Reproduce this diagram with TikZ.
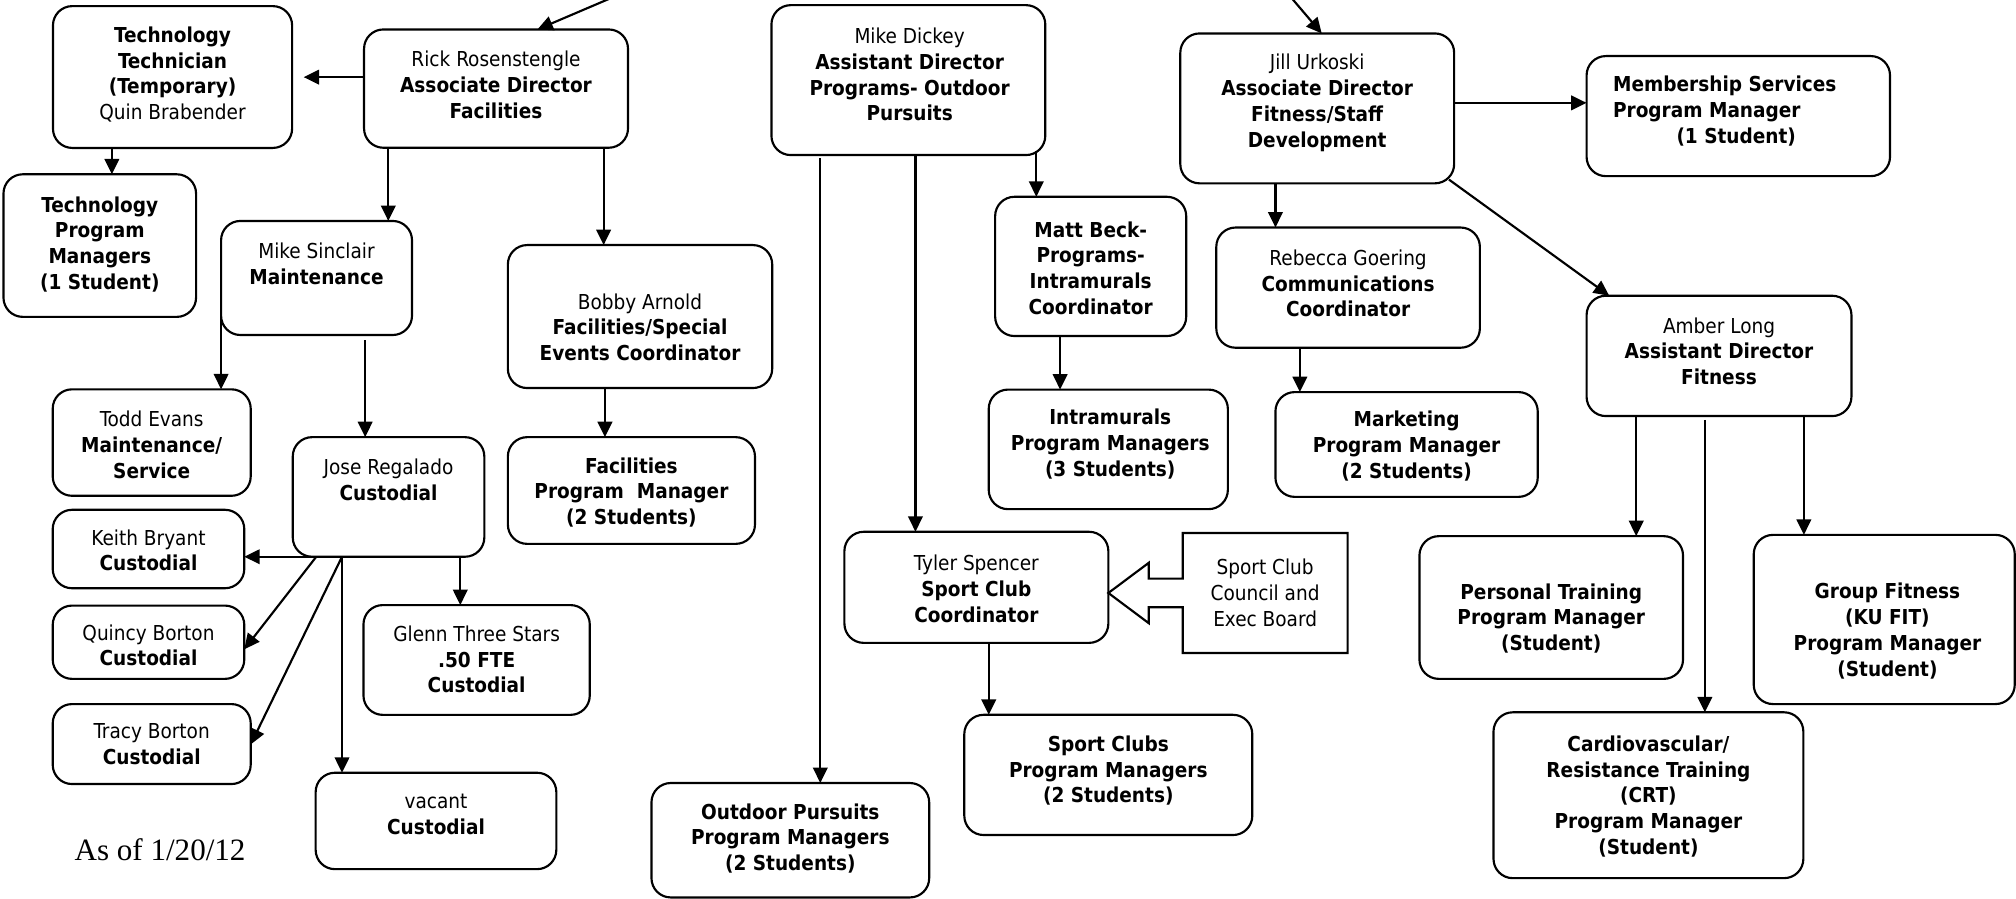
\documentclass[tikz,border=0pt]{standalone}
\usepackage{fontspec}
\setmainfont{DejaVu Sans Condensed}
\newfontfamily\asoffont{Liberation Serif}
\usetikzlibrary{arrows.meta}
\tikzset{
  box/.style={draw, line width=1pt, rounded corners=9pt, inner sep=0pt, outer sep=0pt},
  sz/.style 2 args={minimum width=#1*0.6pt, minimum height=#2*0.6pt},
  txt/.style={align=center, inner sep=0pt, outer sep=0pt, font=\fontsize{9.6}{12}\selectfont},
  txtb/.style={txt, font=\fontsize{9.6}{12}\selectfont\bfseries},
  arr/.style={line width=1pt, -{Triangle[length=7.2pt,width=6.8pt]}},
  callout/.style={line width=1pt, line join=miter},
}
\begin{document}
\begin{tikzpicture}[x=0.6pt, y=-0.6pt]
\useasboundingbox (0,0) rectangle (1568,699);

% ---------- Facilities branch ----------
\node[box, sz={186}{110.3}] (tt) at (134.2,59.9) {};
\node[txt] (tt-t) at (134.2,58) {\textbf{Technology}\\\textbf{Technician}\\\textbf{(Temporary)}\\Quin Brabender};

\node[box, sz={205.3}{92}] (rick) at (385.8,68.9) {};
\node[txt] (rick-t) at (385.8,66) {Rick Rosenstengle\\\textbf{Associate Director}\\\textbf{Facilities}};

\node[box, sz={149.8}{110.9}] (tpm) at (77.6,191) {};
\node[txtb] (tpm-t) at (77.6,190) {Technology\\Program\\Managers\\(1 Student)};

\node[box, sz={148.5}{88.7}] (sinc) at (246.2,216.2) {};
\node[txt] (sinc-t) at (246.2,205) {Mike Sinclair\\\textbf{Maintenance}};

\node[box, sz={205.6}{111.2}] (bobby) at (497.8,246.2) {};
\node[txt] (bobby-t) at (497.8,254.5) {Bobby Arnold\\\textbf{Facilities/Special}\\\textbf{Events Coordinator}};

\node[box, sz={192.2}{83}] (fpm) at (491.1,381.5) {};
\node[txtb] (fpm-t) at (491.1,383) {Facilities\\Program~ Manager\\(2 Students)};

\node[box, sz={154}{82.8}] (todd) at (118,344.2) {};
\node[txt] (todd-t) at (118,346) {Todd Evans\\\textbf{Maintenance/}\\\textbf{Service}};

\node[box, sz={149}{93}] (jose) at (302.2,386.5) {};
\node[txt] (jose-t) at (302.2,373) {Jose Regalado\\\textbf{Custodial}};

\node[box, sz={149}{61}] (keith) at (115.5,427) {};
\node[txt] (keith-t) at (115.5,428) {Keith Bryant\\\textbf{Custodial}};

\node[box, sz={149}{57}] (quincy) at (115.5,499.5) {};
\node[txt] (quincy-t) at (115.5,502) {Quincy Borton\\\textbf{Custodial}};

\node[box, sz={154}{62.2}] (tracy) at (118,578.7) {};
\node[txt] (tracy-t) at (118,579) {Tracy Borton\\\textbf{Custodial}};

\node[box, sz={176}{85.4}] (glenn) at (370.7,513.3) {};
\node[txt] (glenn-t) at (370.7,513) {Glenn Three Stars\\\textbf{.50 FTE}\\\textbf{Custodial}};

\node[box, sz={187.2}{75}] (vacant) at (339.1,638.5) {};
\node[txt] (vacant-t) at (339.1,633.5) {vacant\\\textbf{Custodial}};

\node[inner sep=0pt, anchor=base, font=\asoffont\fontsize{14.5}{16}\selectfont] (asof) at (124.5,669) {As of 1/20/12};

% ---------- Programs branch ----------
\node[box, sz={213}{116.6}] (dickey) at (706.5,62.3) {};
\node[txt] (dickey-t) at (707.5,58) {Mike Dickey\\\textbf{Assistant Director}\\\textbf{Programs- Outdoor}\\\textbf{Pursuits}};

\node[box, sz={148.6}{108.3}] (matt) at (848.3,207.2) {};
\node[txtb] (matt-t) at (848.3,208.5) {Matt Beck-\\Programs-\\Intramurals\\Coordinator};

\node[box, sz={186}{93}] (ipm) at (862,349.5) {};
\node[txtb] (ipm-t) at (863.5,345.5) {Intramurals\\Program Managers\\(3 Students)};

\node[box, sz={205.3}{86.4}] (tyler) at (759.4,456.8) {};
\node[txt] (tyler-t) at (759.4,458) {Tyler Spencer\\\textbf{Sport Club}\\\textbf{Coordinator}};

\node[txt, sz={128.3}{93.3}] (council) at (984,461.2) {Sport Club\\Council and\\Exec Board};

\node[box, sz={224}{93.5}] (spm) at (862,602.7) {};
\node[txtb] (spm-t) at (862,599.5) {Sport Clubs\\Program Managers\\(2 Students)};

\node[box, sz={216}{89}] (opm) at (614.7,653.5) {};
\node[txtb] (opm-t) at (614.7,652) {Outdoor Pursuits\\Program Managers\\(2 Students)};

% ---------- Fitness branch ----------
\node[box, sz={213}{116.6}] (jill) at (1024.5,84.3) {};
\node[txt] (jill-t) at (1024.5,80) {Jill Urkoski\\\textbf{Associate Director}\\\textbf{Fitness/Staff}\\\textbf{Development}};

\node[box, sz={236}{93.4}] (memb) at (1352,90.3) {};
\node[txtb, align=left, anchor=west] (memb-t) at (1254.6,86.5) {Membership Services\\Program Manager\\\hspace*{29.6pt}(1 Student)};

\node[box, sz={205}{93.5}] (rebecca) at (1048.5,223.7) {};
\node[txt] (rebecca-t) at (1048.5,220.5) {Rebecca Goering\\\textbf{Communications}\\\textbf{Coordinator}};

\node[box, sz={204}{81.5}] (mkt) at (1094,345.7) {};
\node[txtb] (mkt-t) at (1094,346.8) {Marketing\\Program Manager\\(2 Students)};

\node[box, sz={206}{93.6}] (amber) at (1337,276.8) {};
\node[txt] (amber-t) at (1337,273.2) {Amber Long\\\textbf{Assistant Director}\\\textbf{Fitness}};

\node[box, sz={205}{111}] (ptr) at (1206.5,472.5) {};
\node[txtb] (ptr-t) at (1206.5,481) {Personal Training\\Program Manager\\(Student)};

\node[box, sz={203}{131.6}] (gfit) at (1465.5,481.8) {};
\node[txtb] (gfit-t) at (1468,490.8) {Group Fitness\\(KU FIT)\\Program Manager\\(Student)};

\node[box, sz={241}{129}] (crt) at (1282.1,618.5) {};
\node[txtb] (crt-t) at (1282.1,619.3) {Cardiovascular/\\Resistance Training\\(CRT)\\Program Manager\\(Student)};

% ---------- callout outline ----------
\draw[callout] (council.north west) -- (council.north east) -- (council.south east)
  -- (council.south west) -- (council.west |- 0,472.3) -- (893.5,472.3) -- (893.5,484.7)
  -- (tyler.east |- 0,461.2) -- (893.5,437.7) -- (893.5,450) -- (council.west |- 0,450) -- cycle;

% ---------- connectors ----------
\coordinate (inA) at (474,-1);
\coordinate (inB) at (1005,-1);
\draw[arr] (inA) -- (rick.north -| 418,0);
\draw[arr] (inB) -- (jill.north -| 1028,0);

\draw[arr, shorten >=5.4pt] (rick.west |- 0,60) -- (tt.east |- 0,60);
\draw[arr] (tt.south -| 87,0) -- (tpm.north -| 87,0);
\draw[arr] (rick.south -| 302,0) -- (sinc.north -| 302,0);
\draw[arr] (rick.south -| 469.5,0) -- (bobby.north -| 469.5,0);
\draw[arr] (sinc.west |- 0,247) -- (todd.north -| sinc.west);
\draw[arr, shorten <=2.4pt] (sinc.south -| 284,0) -- (jose.north -| 284,0);
\draw[arr] (bobby.south -| 470.5,0) -- (fpm.north -| 470.5,0);
\draw[arr] (jose.south -| 246,0) -- (keith.east |- jose.south);
\draw[arr] (jose.south -| 246,0) -- (quincy.east |- 0,505);
\draw[arr] (jose.south -| 266,0) -- (tracy.east |- 0,579);
\draw[arr] (jose.south -| 266,0) -- (vacant.north -| 266,0);
\draw[arr] (jose.south -| 358,0) -- (glenn.north -| 358,0);

\draw[arr, shorten <=-1.8pt] (dickey.south -| 806,0) -- (matt.north -| 806,0);
\draw[arr] (dickey.south -| 712,0) -- (tyler.north -| 712,0);
\draw[arr, shorten <=1.5pt] (dickey.south -| 638,0) -- (opm.north -| 638,0);
\draw[arr] (matt.south -| 824.5,0) -- (ipm.north -| 824.5,0);
\draw[arr] (tyler.south -| 769,0) -- (spm.north -| 769,0);

\draw[arr] (jill.east |- 0,80) -- (memb.west |- 0,80);
\draw[arr] (jill.south -| 992,0) -- (rebecca.north -| 992,0);
\draw[arr] (rebecca.south -| 1011,0) -- (mkt.north -| 1011,0);
\draw[arr, shorten <=-3pt] (jill.south east) -- (amber.north -| 1251.6,0);
\draw[arr] (amber.south -| 1272.6,0) -- (ptr.north -| 1272.6,0);
\draw[arr, shorten <=1.8pt] (amber.south -| 1326,0) -- (crt.north -| 1326,0);
\draw[arr] (amber.south -| 1403,0) -- (gfit.north -| 1403,0);
\end{tikzpicture}
\end{document}
